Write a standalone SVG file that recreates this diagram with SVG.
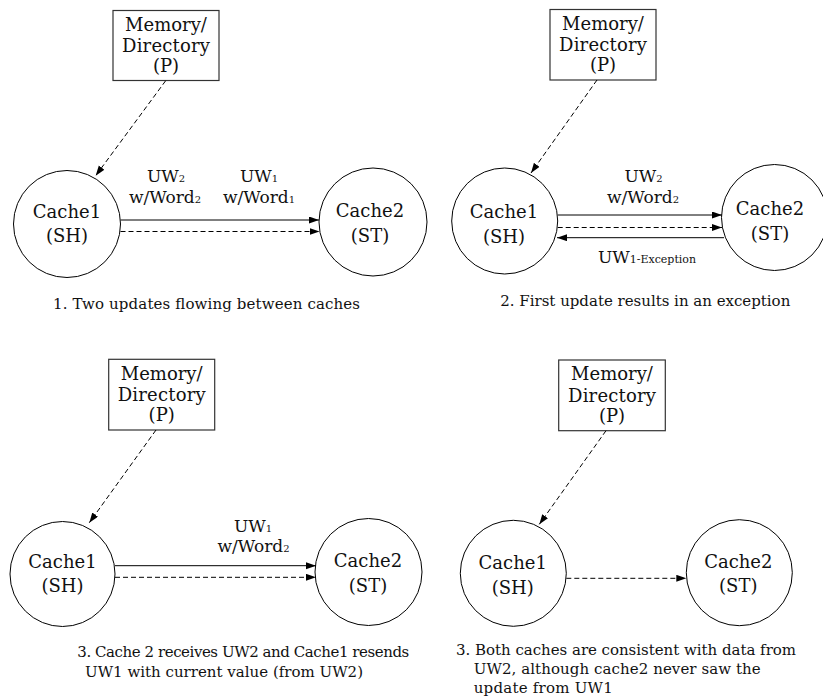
<svg xmlns="http://www.w3.org/2000/svg" width="823" height="699" viewBox="0 0 823 699">
  <defs>
    <marker id="head" markerUnits="userSpaceOnUse" markerWidth="11" markerHeight="8" refX="10" refY="3.5" orient="auto">
      <path d="M0,0 L10,3.5 L0,7 z" fill="#000"/>
    </marker>
    <style>
      text { font-family: "DejaVu Serif", "Liberation Serif", serif; fill: #111; }
      .mem rect { fill: #fff; stroke: #333; stroke-width: 1.2; }
      .mem text { font-size: 18px; text-anchor: middle; }
      .cache circle { fill: #fff; stroke: #000; stroke-width: 1; }
      .cache text { font-size: 18px; text-anchor: middle; }
      .lbl { font-size: 17px; text-anchor: middle; }
      .sub { font-size: 10px; }
      .sub2 { font-size: 11px; }
      .cap { font-size: 15px; }
      .solid { stroke: #000; stroke-width: 1; fill: none; marker-end: url(#head); }
      .dash { stroke: #000; stroke-width: 1; fill: none; stroke-dasharray: 5,3; marker-end: url(#head); }
    </style>
  </defs>

  <!-- Panel 1: two updates in flight -->
  <g id="p1-memory" class="mem">
    <rect x="113" y="10.5" width="106" height="70"/>
    <text x="166" y="31">Memory/</text>
    <text x="166" y="52" textLength="88" lengthAdjust="spacing">Directory</text>
    <text x="166" y="72">(P)</text>
  </g>
  <g id="p1-cache1" class="cache">
    <circle cx="67" cy="224" r="53.5"/>
    <text x="67" y="218">Cache1</text>
    <text x="67" y="242">(SH)</text>
  </g>
  <g id="p1-cache2" class="cache">
    <circle cx="373" cy="222" r="54"/>
    <text x="370" y="217">Cache2</text>
    <text x="370" y="242">(ST)</text>
  </g>
  <g id="p1-connectors">
    <line class="dash" x1="165.7" y1="80.7" x2="95.7" y2="175.7"/>
    <line class="solid" x1="120.5" y1="220" x2="319" y2="220"/>
    <line class="dash" x1="120.5" y1="231.5" x2="319.5" y2="231.5"/>
    <text class="lbl" x="166" y="181.5">UW<tspan class="sub">2</tspan></text>
    <text class="lbl" x="165" y="203">w/Word<tspan class="sub">2</tspan></text>
    <text class="lbl" x="259" y="181.5">UW<tspan class="sub">1</tspan></text>
    <text class="lbl" x="259" y="203">w/Word<tspan class="sub">1</tspan></text>
  </g>
  <text class="cap" x="53" y="309" textLength="307" lengthAdjust="spacing">1. Two updates flowing between caches</text>

  <!-- Panel 2: first update raises an exception -->
  <g id="p2-memory" class="mem">
    <rect x="550" y="9.5" width="106" height="70.5"/>
    <text x="603" y="30">Memory/</text>
    <text x="603" y="51" textLength="88" lengthAdjust="spacing">Directory</text>
    <text x="603" y="71">(P)</text>
  </g>
  <g id="p2-cache1" class="cache">
    <circle cx="504.7" cy="221" r="53"/>
    <text x="504" y="218">Cache1</text>
    <text x="504" y="242.5">(SH)</text>
  </g>
  <g id="p2-cache2" class="cache">
    <circle cx="774.5" cy="217.5" r="53"/>
    <text x="770" y="215">Cache2</text>
    <text x="770" y="240">(ST)</text>
  </g>
  <g id="p2-connectors">
    <line class="dash" x1="597" y1="80" x2="531" y2="173"/>
    <line class="solid" x1="557.7" y1="215" x2="722" y2="215"/>
    <line class="dash" x1="557.7" y1="227.5" x2="722" y2="227.5"/>
    <line class="solid" x1="724" y1="237.7" x2="557" y2="237.7"/>
    <text class="lbl" x="643.5" y="181.5">UW<tspan class="sub">2</tspan></text>
    <text class="lbl" x="643" y="203">w/Word<tspan class="sub">2</tspan></text>
    <text class="lbl" x="647" y="263">UW<tspan class="sub2">1-Exception</tspan></text>
  </g>
  <text class="cap" x="500.3" y="306" textLength="290" lengthAdjust="spacing">2. First update results in an exception</text>

  <!-- Panel 3: Cache1 resends UW1 with the current value -->
  <g id="p3-memory" class="mem">
    <rect x="108.7" y="359.3" width="106" height="70.7"/>
    <text x="161.7" y="379.5">Memory/</text>
    <text x="161.7" y="401" textLength="88" lengthAdjust="spacing">Directory</text>
    <text x="161.7" y="420.5">(P)</text>
  </g>
  <g id="p3-cache1" class="cache">
    <circle cx="62.5" cy="574" r="52.5"/>
    <text x="62.5" y="567.7">Cache1</text>
    <text x="62.5" y="591.7">(SH)</text>
  </g>
  <g id="p3-cache2" class="cache">
    <circle cx="368.5" cy="572" r="53.5"/>
    <text x="368" y="566.7">Cache2</text>
    <text x="368" y="591.7">(ST)</text>
  </g>
  <g id="p3-connectors">
    <line class="dash" x1="156" y1="430" x2="89.3" y2="522.7"/>
    <line class="solid" x1="115" y1="565.7" x2="316" y2="565.7"/>
    <line class="dash" x1="115" y1="577.3" x2="316" y2="577.3"/>
    <text class="lbl" x="253" y="531.7">UW<tspan class="sub">1</tspan></text>
    <text class="lbl" x="253.5" y="551.7">w/Word<tspan class="sub">2</tspan></text>
  </g>
  <text class="cap" x="77.3" y="657.3" textLength="332" lengthAdjust="spacing">3. Cache 2 receives UW2 and Cache1 resends</text>
  <text class="cap" x="85" y="677.3" textLength="278" lengthAdjust="spacing">UW1 with current value (from UW2)</text>

  <!-- Panel 4: both caches consistent -->
  <g id="p4-memory" class="mem">
    <rect x="558.7" y="360" width="106.6" height="70.7"/>
    <text x="612" y="380">Memory/</text>
    <text x="612" y="402" textLength="88" lengthAdjust="spacing">Directory</text>
    <text x="612" y="421.7">(P)</text>
  </g>
  <g id="p4-cache1" class="cache">
    <circle cx="513.3" cy="573.3" r="53"/>
    <text x="512.7" y="569.3">Cache1</text>
    <text x="512.7" y="594">(SH)</text>
  </g>
  <g id="p4-cache2" class="cache">
    <circle cx="739.3" cy="572.7" r="53"/>
    <text x="738.3" y="567.7">Cache2</text>
    <text x="738.3" y="592.3">(ST)</text>
  </g>
  <g id="p4-connectors">
    <line class="dash" x1="606" y1="430.7" x2="539.3" y2="524.3"/>
    <line class="dash" x1="566.3" y1="578.3" x2="686.3" y2="578.3"/>
  </g>
  <text class="cap" x="456" y="655" textLength="340" lengthAdjust="spacing">3. Both caches are consistent with data from</text>
  <text class="cap" x="473.7" y="674.3" textLength="287" lengthAdjust="spacing">UW2, although cache2 never saw the</text>
  <text class="cap" x="473.7" y="693.3" textLength="139" lengthAdjust="spacing">update from UW1</text>
</svg>
